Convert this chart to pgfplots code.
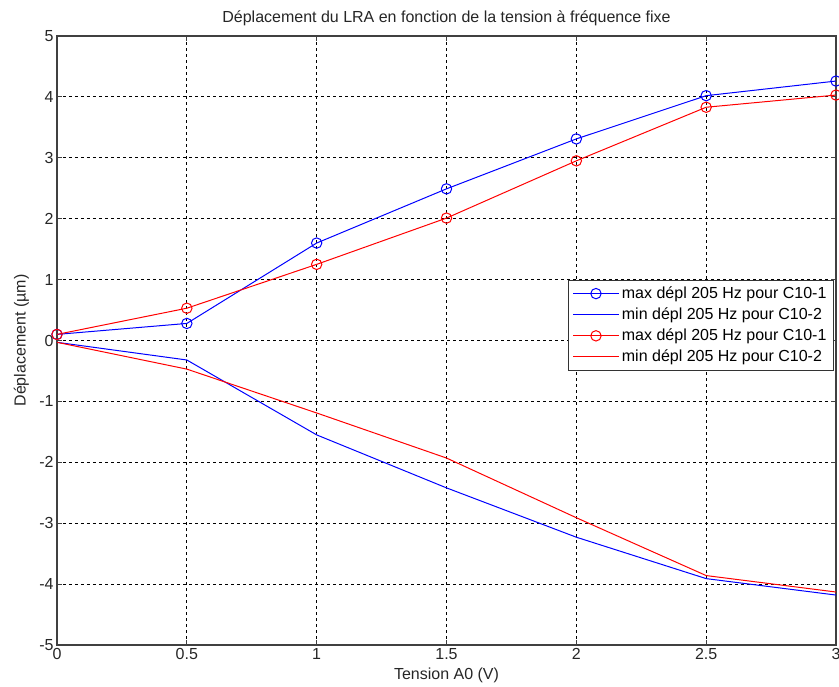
\documentclass[border=0pt]{standalone}
\usepackage{fontspec}
\setmainfont{Liberation Sans}
\usepackage{pgfplots}
\pgfplotsset{compat=1.18}
\begin{document}
\begin{tikzpicture}[x=1pt,y=1pt]
\begin{axis}[
  scale only axis,
  width=584.25pt, height=456.75pt,
  xmin=0, xmax=3, ymin=-5, ymax=5,
  xtick={0,0.5,1,1.5,2,2.5,3},
  xticklabels={0,0.5,1,1.5,2,2.5,3},
  ytick={-5,-4,-3,-2,-1,0,1,2,3,4,5},
  yticklabels={-5,-4,-3,-2,-1,0,1,2,3,4,5},
  tick align=inside,
  major tick length=4pt,
  xtick pos=both, ytick pos=both,
  grid=major,
  major grid style={black, dash pattern=on 2pt off 2.5pt, line width=0.8pt},
  axis line style={black!75, line width=0.9pt},
  tick style={black!75, line width=0.9pt},
  tick label style={font=\fontsize{12}{14}\selectfont, text=black!85},
  xticklabel style={yshift=1pt},
  yticklabel style={xshift=1pt},
  title={Déplacement du LRA en fonction de la tension à fréquence fixe},
  title style={font=\fontsize{12}{14}\selectfont, text=black!85, yshift=-2pt},
  xlabel={Tension A0 (V)},
  ylabel={Déplacement (µm)},
  label style={font=\fontsize{12}{14}\selectfont, text=black!85},
  xlabel style={yshift=1pt},
  ylabel style={yshift=1pt},
  legend style={at={(0.997,0.525)}, anchor=east, draw=black!80, line width=0.8pt,
    font=\fontsize{12}{14}\selectfont, fill=white, row sep=1.5pt, inner sep=3pt},
  legend cell align=left,
  legend image code/.code={\draw[mark repeat=2,mark phase=2,#1] plot coordinates {(0cm,0cm) (0.6cm,0cm) (1.2cm,0cm)};},
]
\addplot[blue, line width=0.75pt, mark=o, mark size=3.9pt, mark options={line width=0.75pt}] coordinates {
(0,0.10) (0.5,0.28) (1,1.60) (1.5,2.49) (2,3.31) (2.5,4.02) (3,4.26)};
\addlegendentry{max dépl 205 Hz pour C10-1}
\addplot[blue, line width=0.75pt] coordinates {
(0,-0.03) (0.5,-0.32) (1,-1.55) (1.5,-2.42) (2,-3.23) (2.5,-3.91) (3,-4.18)};
\addlegendentry{min dépl 205 Hz pour C10-2}
\addplot[red, line width=0.75pt, mark=o, mark size=3.9pt, mark options={line width=0.75pt}] coordinates {
(0,0.10) (0.5,0.53) (1,1.25) (1.5,2.01) (2,2.95) (2.5,3.83) (3,4.03)};
\addlegendentry{max dépl 205 Hz pour C10-1}
\addplot[red, line width=0.75pt] coordinates {
(0,-0.03) (0.5,-0.47) (1,-1.19) (1.5,-1.93) (2,-2.91) (2.5,-3.86) (3,-4.13)};
\addlegendentry{min dépl 205 Hz pour C10-2}
\end{axis}
\pgfresetboundingbox
\useasboundingbox (-42.75pt,-30.75pt) rectangle (586.5pt,483.75pt);
\end{tikzpicture}
\end{document}
